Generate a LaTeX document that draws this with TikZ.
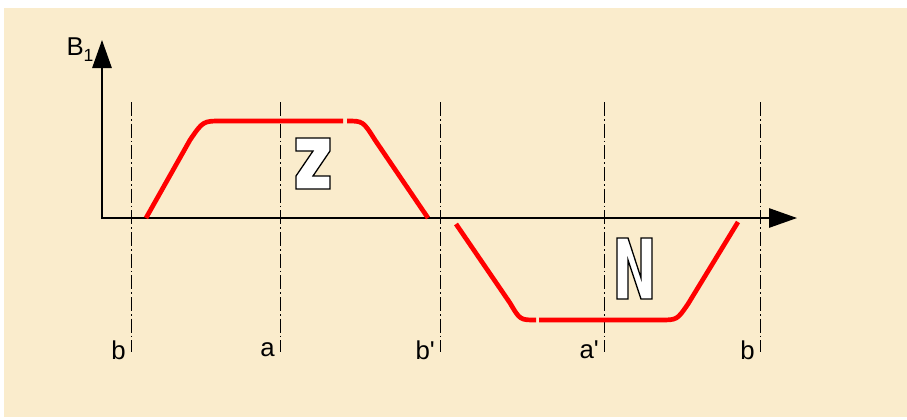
\documentclass[tikz,border=0pt]{standalone}
\usepackage{fontspec}
\setmainfont{Liberation Sans}
\usetikzlibrary{arrows.meta}
\definecolor{parchment}{RGB}{250,236,204}
\definecolor{fluxred}{RGB}{255,0,0}
\begin{document}
\begin{tikzpicture}[x=0.03cm, y=-0.03cm,
  every node/.style={font=\fontsize{22}{24}\selectfont, inner sep=0pt},
  axis/.style={line width=1.5pt, -{Triangle[length=0.84cm, width=0.58cm]}},
  pole/.style={line width=0.7pt, dash pattern=on 12pt off 2.5pt on 1.5pt off 2.5pt},
  flux/.style={fluxred, line width=4pt},
  letter/.style={fill=white, draw=black, line width=1.1pt, line join=miter}]
  % paper
  \useasboundingbox (0,0) rectangle (907,419);
  \fill[parchment] (4,8) rectangle (907,417);
  % axes
  \draw[axis] (102,219) -- (102,40);
  \draw[axis] (101,218) -- (797,218);
  \node (B1) at (80,50) {B\raisebox{-0.45ex}{\fontsize{15}{15}\selectfont 1}};
  % pole lines
  \foreach \x/\lbl/\nm in {131/b/b1, 280/a/a1, 440/b\textquotesingle/b2, 604/a\textquotesingle/a2, 760/b/b3} {
    \draw[pole] (\x,102) -- (\x,352);
    \node[anchor=east] (\nm) at (\x-5,350) {\lbl};
  }
  % north flux
  \draw[flux] (146,218) -- (190,140) .. controls (203,121) .. (222,121) -- (343,121);
  \draw[flux] (347,121) .. controls (363,121) .. (375,140) -- (428,218);
  % south flux
  \draw[flux] (456,224) -- (510,303) .. controls (520,320) .. (536,320);
  \draw[flux] (539,320) -- (660,320) .. controls (677,320) .. (688,304) -- (738,222);
  % pole letters
  \draw[letter] (296,138) -- ++(34,0) -- ++(0,13) -- ++(-17,25) -- ++(17,0) -- ++(0,13)
    -- ++(-34,0) -- ++(0,-13) -- ++(17,-25) -- ++(-17,0) -- cycle;
  \draw[letter] (617,238) -- ++(11,0) -- ++(13,40) -- ++(0,-40) -- ++(11,0) -- ++(0,61)
    -- ++(-11,0) -- ++(-13,-39) -- ++(0,39) -- ++(-11,0) -- cycle;
\end{tikzpicture}
\end{document}
